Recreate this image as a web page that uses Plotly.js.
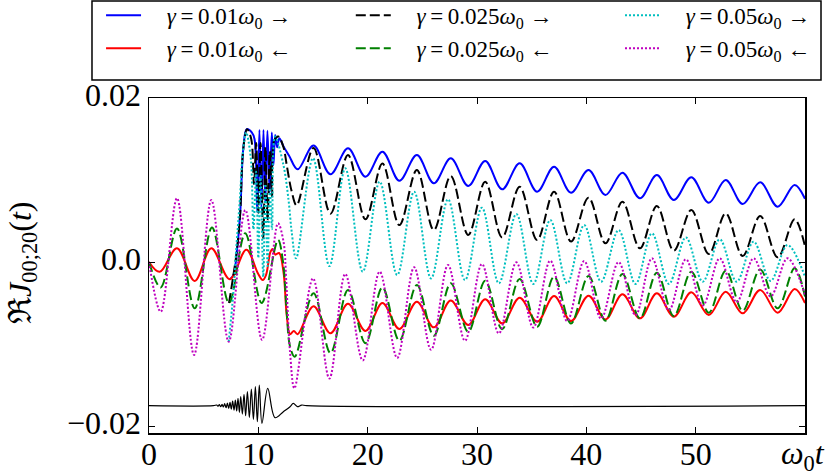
<!DOCTYPE html>
<html>
<head>
<meta charset="utf-8">
<script src="https://cdn.plot.ly/plotly-3.0.1.min.js"></script>
<style>
  html, body { margin: 0; padding: 0; background: #fff; }
  #chart { width: 830px; height: 475px; }
</style>
</head>
<body>
<div id="chart"></div>
<script>
// shared sample times after the transient (peaks and troughs)
const tailT = [15.05, 16.6, 18.2, 19.8, 21.35, 22.9, 24.5, 26.05, 27.6, 29.2, 30.75, 32.3, 33.9, 35.5, 37.05,
  38.6, 40.2, 41.75, 43.3, 44.9, 46.45, 48.0, 49.6, 51.2, 52.75, 54.3, 55.9, 57.5, 59.05, 60];
const dotTailT = [15.0, 16.5, 17.95, 19.55, 21.1, 22.7, 24.25, 25.8, 27.35, 28.9, 30.45, 32.0, 33.6, 35.15, 36.7,
  38.25, 39.8, 41.35, 42.95, 44.5, 46.0, 47.55, 49.1, 50.65, 52.2, 53.75, 55.3, 56.85, 58.4, 60];

// gamma = 0.01 forward (blue)
const blueHeadT = [7.38, 7.72, 8.05, 8.33, 8.63, 8.94, 9.4, 9.65, 9.9, 10.1, 10.28, 10.47, 10.64, 10.83, 11.04,
  11.23, 11.38, 11.54, 11.72, 11.92, 12.3, 12.8, 13.6];
const blueHeadY = [-0.0021, -0.0016, 0.0015, 0.0057, 0.0139, 0.0162, 0.0158, 0.0150, 0.0061, 0.0161, 0.0065,
  0.0161, 0.0073, 0.0160, 0.0085, 0.0158, 0.0118, 0.0155, 0.0140, 0.0151, 0.0141, 0.0130, 0.0113];
const blueTailY = [0.0142, 0.0107, 0.01386, 0.0104, 0.01345, 0.0099, 0.01305, 0.0096, 0.01264, 0.00927, 0.01232,
  0.00886, 0.01203, 0.00858, 0.01163, 0.00845, 0.01122, 0.00817, 0.0109, 0.00777, 0.0106, 0.00756, 0.01033,
  0.00723, 0.0100, 0.00707, 0.00972, 0.00675, 0.00939, 0.0077];

// gamma = 0.01 backward (red)
const redHeadT = [0, 0.98, 2.56, 4.18, 5.7, 7.38, 8.9, 9.97, 10.4, 10.7, 11.1, 11.3, 11.55, 11.9, 12.3, 12.6,
  12.9, 13.25, 13.6];
const redHeadY = [0, -0.0012, 0.00167, -0.0023, 0.00167, -0.0021, 0.0015, -0.0014, -0.0022, -0.0016, 0.0012,
  0.0016, 0.0009, 0.0011, -0.0012, -0.0065, -0.0088, -0.0084, -0.0088];
const redTailY = [-0.0054, -0.0087, -0.0051, -0.0084, -0.0050, -0.00817, -0.00484, -0.00797, -0.0047, -0.00768,
  -0.00455, -0.00748, -0.00435, -0.00728, -0.00415, -0.0072, -0.0041, -0.0070, -0.00394, -0.00687, -0.00382,
  -0.00667, -0.0037, -0.00646, -0.00362, -0.00626, -0.00341, -0.00618, -0.00329, -0.0050];

// gamma = 0.025 forward (black)
const blackHeadT = [7.32, 7.72, 8.05, 8.33, 8.63, 8.97, 9.35, 9.6, 9.8, 10.0, 10.2, 10.45, 10.65, 10.85, 11.05,
  11.25, 11.45, 11.83, 12.3, 12.6, 13.05, 13.5];
const blackHeadY = [-0.005, -0.0016, 0.0015, 0.0057, 0.0139, 0.0162, 0.0150, 0.0095, 0.0145, 0.006, 0.0145,
  0.0029, 0.0140, 0.0050, 0.0135, 0.0080, 0.0148, 0.0153, 0.0140, 0.0118, 0.0086, 0.0069];
const blackTailY = [0.0139, 0.0059, 0.01305, 0.0052, 0.0120, 0.0045, 0.01122, 0.0039, 0.01049, 0.0033, 0.0098,
  0.0030, 0.00919, 0.00268, 0.00858, 0.0025, 0.00785, 0.00228, 0.00736, 0.00167, 0.00683, 0.00138, 0.00634,
  0.00098, 0.00594, 0.00073, 0.00561, 0.00057, 0.0052, 0.0019];

// gamma = 0.025 backward (green)
const greenHeadT = [0, 1.07, 2.56, 4.18, 5.76, 7.32, 8.8, 10.3, 11.8, 12.26, 12.6, 12.9, 13.33];
const greenHeadY = [0, -0.0031, 0.0041, -0.00565, 0.0042, -0.005, 0.0035, -0.005, 0.0027, 0.0, -0.0062, -0.0103,
  -0.01155];
const greenTailY = [-0.0038, -0.0111, -0.0034, -0.0099, -0.0031, -0.0096, -0.0028, -0.0090, -0.0026, -0.0085,
  -0.00228, -0.0082, -0.00207, -0.0079, -0.00179, -0.0075, -0.00171, -0.00716, -0.00146, -0.00687, -0.0013,
  -0.00659, -0.00118, -0.00618, -0.00106, -0.00594, -0.0009, -0.00565, -0.00077, -0.0042];

// gamma = 0.05 forward (cyan)
const cyanHeadT = [7.29, 7.7, 8.0, 8.3, 8.6, 8.88, 9.3, 9.55, 9.8, 10.0, 10.2, 10.45, 10.65, 10.85, 11.05, 11.25,
  11.53, 12.3, 12.75, 13.05, 13.45];
const cyanHeadY = [-0.00972, -0.004, 0.002, 0.0075, 0.0135, 0.0158, 0.0128, 0.0040, 0.0110, 0.0005, 0.0105,
  -0.0018, 0.0095, -0.0005, 0.0090, 0.0040, 0.0153, 0.0118, 0.0077, 0.0037, 0.00045];
const cyanTailY = [0.01265, -0.0005, 0.01142, -0.00118, 0.0098, -0.00159, 0.00858, -0.0020, 0.00764, -0.0022,
  0.00663, -0.0026, 0.00585, -0.00268, 0.00512, -0.0026, 0.00451, -0.0024, 0.0039, -0.00268, 0.0035, -0.00268,
  0.0030, -0.0024, 0.00277, -0.0024, 0.00248, -0.0023, 0.00207, -0.0018];

// gamma = 0.05 backward (magenta)
const magentaHeadT = [0, 1.07, 2.56, 4.12, 5.7, 7.29, 8.81, 10.34, 11.8, 12.3, 12.55, 12.9, 13.3];
const magentaHeadY = [0, -0.00606, 0.00777, -0.01134, 0.00756, -0.00972, 0.00634, -0.0095, 0.00472, 0.0025,
  -0.0022, -0.011, -0.0154];
const magentaTailY = [-0.0020, -0.0142, -0.00146, -0.0120, -0.00118, -0.0117, -0.00065, -0.0107, -0.00037,
  -0.0096, -0.00024, -0.0087, -0.00004, -0.0080, 0.00016, -0.0072, 0.00012, -0.0069, 0.0, -0.0065, 0.00045,
  -0.0059, 0.00033, -0.0053, 0.00045, -0.0049, 0.00045, -0.0042, 0.00045, -0.0040];

// driving pulse, drawn offset at the bottom
const pulseT = [0, 5.89, 6.19, 6.31, 6.43, 6.56, 6.68, 6.80, 6.92, 7.05, 7.17, 7.29, 7.41, 7.53, 7.65, 7.78, 7.90,
  8.02, 8.14, 8.27, 8.39, 8.54, 8.69, 8.84, 9.00, 9.18, 9.36, 9.55, 9.73, 9.91, 10.09, 10.33, 10.86, 11.53, 12.29,
  12.90, 13.20, 13.57, 13.96, 14.42, 60];
const pulseY = [-0.01752, -0.01752, -0.01744, -0.01760, -0.01740, -0.01764, -0.01736, -0.01768, -0.01728, -0.01776,
  -0.01720, -0.01785, -0.01712, -0.01793, -0.01695, -0.01805, -0.01683, -0.01817, -0.01663, -0.01833, -0.01642,
  -0.01854, -0.01614, -0.01874, -0.01581, -0.01898, -0.01549, -0.01919, -0.01520, -0.01947, -0.01500, -0.01968,
  -0.01541, -0.01898, -0.01825, -0.01764, -0.01724, -0.01764, -0.01744, -0.01752, -0.01752];

const xTicks = [0, 10, 20, 30, 40, 50];
const yTicks = [-0.02, 0, 0.02];
const yTickText = ['\u22120.02', '0.0', '0.02'];

const serif = "'Liberation Serif', 'Times New Roman', serif";
const eq = '\u2009=\u2009';
const pad = '\u2002\u2009\u2009';

function curve(t, y, name, color, dash, legend) {
  return {
    x: t, y: y, name: pad + name, type: 'scatter', mode: 'lines', legend: legend,
    line: {color: color, width: 2, dash: dash, shape: 'spline', smoothing: 1}
  };
}

const traces = [
  curve(blueHeadT.concat(tailT), blueHeadY.concat(blueTailY), '<i>γ</i>' + eq + '0.01<i>ω</i><sub>0</sub> →', '#0000ff', 'solid', 'legend'),
  curve(redHeadT.concat(tailT), redHeadY.concat(redTailY), '<i>γ</i>' + eq + '0.01<i>ω</i><sub>0</sub> ←', '#ff0000', 'solid', 'legend'),
  curve(blackHeadT.concat(tailT), blackHeadY.concat(blackTailY), '<i>γ</i>' + eq + '0.025<i>ω</i><sub>0</sub> →', '#000000', '10px,4px', 'legend2'),
  curve(greenHeadT.concat(tailT), greenHeadY.concat(greenTailY), '<i>γ</i>' + eq + '0.025<i>ω</i><sub>0</sub> ←', '#008000', '10px,4px', 'legend2'),
  curve(cyanHeadT.concat(dotTailT), cyanHeadY.concat(cyanTailY), '<i>γ</i>' + eq + '0.05<i>ω</i><sub>0</sub> →', '#00bfbf', '2px,2px', 'legend3'),
  curve(magentaHeadT.concat(dotTailT), magentaHeadY.concat(magentaTailY), '<i>γ</i>' + eq + '0.05<i>ω</i><sub>0</sub> ←', '#bf00bf', '2px,2px', 'legend3'),
  {x: pulseT, y: pulseY, type: 'scatter', mode: 'lines', showlegend: false,
   line: {color: '#000000', width: 1.2, shape: 'spline', smoothing: 1}}
];

const axisCommon = {
  showline: true, linecolor: '#000', linewidth: 1.5, mirror: 'ticks',
  ticks: 'inside', ticklen: 6, tickwidth: 1, tickcolor: '#000',
  showgrid: false, zeroline: false,
  tickfont: {family: serif, size: 32, color: '#000'}
};

function legendAt(x) {
  return {
    orientation: 'v', x: x, xanchor: 'left', y: 1.311, yanchor: 'top',
    bgcolor: 'rgba(0,0,0,0)', borderwidth: 0, tracegroupgap: 0,
    font: {family: serif, size: 23, color: '#000'},
    itemwidth: 35
  };
}

const layout = {
  width: 830, height: 475,
  margin: {l: 149, r: 25, t: 98, b: 42, autoexpand: false},
  paper_bgcolor: '#fff', plot_bgcolor: '#fff',
  font: {family: serif, color: '#000'},
  xaxis: Object.assign({}, axisCommon, {range: [0, 60], tickvals: xTicks, ticklabelstandoff: -8}),
  yaxis: Object.assign({}, axisCommon, {range: [-0.02085, 0.02], tickvals: yTicks, ticktext: yTickText,
    ticklabelshift: -3}),
  showlegend: true,
  legend: legendAt(-0.0731),
  legend2: legendAt(0.3076),
  legend3: legendAt(0.718),
  shapes: [{
    type: 'rect', xref: 'paper', yref: 'paper', layer: 'below',
    x0: -0.0869, x1: 1.0244, y0: 1.0537, y1: 1.2896,
    line: {color: '#000', width: 1.5}, fillcolor: '#fff'
  }],
  annotations: [
    {xref: 'paper', yref: 'paper', x: -0.194, y: 0.507, xanchor: 'center', yanchor: 'middle',
     text: 'ℜ<i>J</i><sub>00;20</sub>(<i>t</i>)', textangle: -90, showarrow: false,
     font: {family: serif, size: 32, color: '#000'}},
    {xref: 'paper', yref: 'paper', x: 0.997, y: -0.066, xanchor: 'center', yanchor: 'middle',
     text: '<i>ω</i><sub>0</sub><i>t</i>', showarrow: false,
     font: {family: serif, size: 32, color: '#000'}}
  ]
};

Plotly.newPlot('chart', traces, layout, {displayModeBar: false, staticPlot: true});
</script>
</body>
</html>
